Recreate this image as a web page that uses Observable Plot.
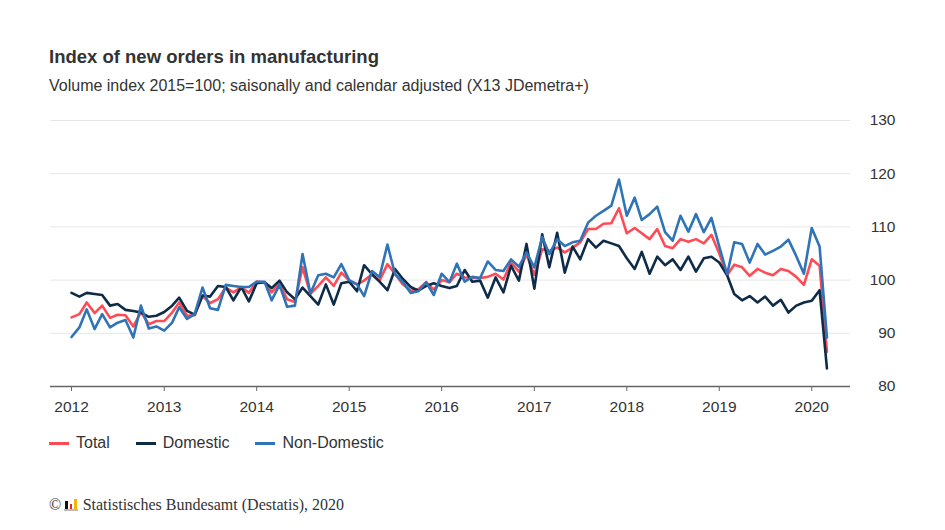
<!DOCTYPE html>
<html>
<head>
<meta charset="utf-8">
<script src="https://cdn.jsdelivr.net/npm/d3@7"></script>
<script src="https://cdn.jsdelivr.net/npm/@observablehq/plot@0.6"></script>
<style>
  html, body { margin: 0; padding: 0; background: #fff; }
  body { font-family: "Liberation Sans", Arial, sans-serif; color: #333; }
  #wrap { position: relative; width: 945px; height: 530px; overflow: hidden; background: #fff; }
  .title { position: absolute; left: 49px; top: 47.5px; font-size: 18.5px; font-weight: bold; line-height: 1; white-space: nowrap; color: #333; }
  .subtitle { position: absolute; left: 49px; top: 78px; font-size: 16px; line-height: 1; white-space: nowrap; color: #333; }
  #chart { position: absolute; left: 0; top: 100px; }
  #legend { position: absolute; left: 49px; top: 435px; display: flex; gap: 26px; font-size: 16px; line-height: 1; color: #333; }
  .item { display: flex; align-items: center; white-space: nowrap; }
  .sw { width: 20px; height: 3px; margin-right: 7px; margin-top: 1px; }
  #footer { position: absolute; left: 49px; top: 497px; font-family: "Liberation Serif", "Times New Roman", serif; font-size: 16px; line-height: 1; color: #333; display: flex; align-items: flex-end; white-space: nowrap; }
  .logo { display: inline-flex; align-items: flex-end; gap: 2px; height: 12px; margin: 0 5px 2px 3px; border-bottom: 2px solid #bbb; padding: 0 1px; }
  .logo span { display: block; width: 2.5px; }
</style>
</head>
<body>
<div id="wrap">
  <div class="title">Index of new orders in manufacturing</div>
  <div class="subtitle">Volume index 2015=100; saisonally and calendar adjusted (X13 JDemetra+)</div>
  <div id="chart"></div>
  <div id="legend"></div>
  <div id="footer"><span>©</span><span class="logo"><span style="height:8px;background:#111"></span><span style="height:5px;background:#e3242b"></span><span style="height:10px;background:#f2b800"></span></span><span>Statistisches Bundesamt (Destatis), 2020</span></div>
</div>
<script>
// Monthly values, January 2012 to March 2020
const firstYear = 2012;
const seriesNames = ["Total", "Domestic", "Non-Domestic"];
const seriesColors = ["#ff4b55", "#0e2b48", "#2f74b6"];
const yTicks = [80, 90, 100, 110, 120, 130];
const xTickYears = [2012, 2013, 2014, 2015, 2016, 2017, 2018, 2019, 2020];

const total = [
  93.0, 93.6, 95.8, 93.8, 95.2, 92.9, 93.5, 93.4, 91.3, 94.0, 91.7, 92.3,
  92.3, 93.9, 95.8, 93.3, 93.4, 97.0, 95.7, 96.4, 98.6, 97.7, 98.7, 97.6,
  99.7, 99.6, 97.7, 99.4, 96.4, 95.9, 102.4, 97.4, 98.9, 100.5, 98.9, 101.4,
  99.9, 99.2, 99.9, 101.1, 99.9, 103.0, 101.2, 99.2, 98.0, 98.3, 99.6, 98.2,
  100.0, 99.6, 101.2, 100.5, 100.4, 100.4, 100.6, 101.2, 100.1, 103.3, 101.6, 104.8,
  101.0, 105.8, 105.5, 106.1, 105.2, 106.1, 107.1, 109.6, 109.6, 110.6, 110.7, 113.5,
  108.8, 109.8, 108.8, 107.7, 109.6, 106.4, 106.0, 107.7, 107.2, 107.7, 106.9, 108.5,
  105.0, 100.9, 102.9, 102.4, 100.8, 102.1, 101.4, 100.9, 102.1, 101.7, 100.6, 99.1,
  103.9, 102.7, 86.5
];
const domestic = [
  97.6, 96.9, 97.6, 97.4, 97.2, 95.2, 95.5, 94.4, 94.2, 93.9, 93.1, 93.3,
  94.0, 95.2, 96.7, 94.2, 93.5, 97.1, 96.9, 98.9, 98.7, 96.2, 98.7, 96.0,
  99.4, 99.6, 98.5, 99.9, 97.7, 96.4, 98.6, 97.0, 95.4, 99.2, 95.4, 99.4,
  99.7, 97.9, 102.8, 101.1, 99.7, 98.1, 102.1, 100.2, 98.7, 98.0, 98.9, 99.4,
  98.9, 98.5, 98.9, 101.9, 99.7, 99.9, 96.7, 100.5, 97.7, 102.7, 99.9, 106.8,
  98.4, 108.6, 102.4, 108.9, 101.4, 106.3, 103.9, 107.7, 106.1, 107.4, 106.9, 106.4,
  104.1, 102.1, 105.3, 101.2, 104.4, 102.8, 103.9, 101.9, 104.4, 101.6, 104.1, 104.4,
  103.3, 100.9, 97.4, 96.2, 97.0, 95.8, 96.9, 95.2, 96.3, 93.9, 95.2, 95.8,
  96.1, 98.1, 83.4
];
const nonDomestic = [
  89.3, 91.1, 94.5, 90.8, 93.6, 91.1, 92.0, 92.5, 89.2, 95.2, 90.9, 91.3,
  90.5, 92.0, 94.9, 92.7, 93.6, 98.6, 94.7, 94.4, 99.1, 98.9, 98.7, 98.7,
  99.7, 99.7, 96.2, 99.1, 95.0, 95.2, 104.9, 97.5, 100.9, 101.2, 100.5, 103.0,
  100.0, 99.2, 97.0, 101.7, 100.6, 106.7, 101.1, 99.6, 97.6, 97.9, 99.6, 97.2,
  101.2, 99.6, 103.1, 99.7, 100.6, 100.4, 103.5, 101.9, 101.7, 103.9, 102.5, 105.2,
  102.4, 108.1, 104.9, 107.7, 106.4, 107.1, 107.4, 110.8, 112.1, 113.0, 114.0, 118.9,
  112.1, 115.5, 111.3, 112.4, 113.8, 109.0, 107.4, 112.1, 109.1, 112.4, 109.0, 111.7,
  106.3, 101.1, 107.1, 106.8, 103.3, 106.8, 104.8, 105.5, 106.3, 107.6, 104.5, 101.2,
  109.8, 106.3, 89.2
];

const seriesValues = [total, domestic, nonDomestic];
const rows = [];
seriesValues.forEach((vals, k) => {
  vals.forEach((v, i) => {
    rows.push({ date: new Date(Date.UTC(firstYear, i, 1)), value: v, series: seriesNames[k] });
  });
});

const chart = Plot.plot({
  width: 945,
  height: 320,
  marginLeft: 50,
  marginRight: 95,
  marginTop: 20,
  marginBottom: 34,
  style: { fontFamily: '"Liberation Sans", Arial, sans-serif', fontSize: "15px", color: "#333", background: "#fff" },
  x: { type: "utc", domain: [new Date(Date.UTC(2011, 9, 10)), new Date(Date.UTC(2020, 5, 2))] },
  y: { domain: [80, 130], axis: null },
  color: { domain: seriesNames, range: seriesColors },
  marks: [
    Plot.ruleY(yTicks.filter(d => d > 80), { stroke: "#e6e6e6", strokeWidth: 1 }),
    Plot.lineY(rows, { x: "date", y: "value", z: "series", stroke: "series", strokeWidth: 2.6 }),
    Plot.ruleY([80], { stroke: "#666", strokeWidth: 1.5 }),
    Plot.axisX({
      ticks: xTickYears.map(y => new Date(Date.UTC(y, 0, 1))),
      tickFormat: d3.utcFormat("%Y"),
      tickSize: 5, tickPadding: 9, fontSize: 15.5, stroke: "#666", label: null
    }),
    Plot.text(yTicks, {
      y: d => d, text: d => String(d), frameAnchor: "right", dx: 45,
      textAnchor: "end", fontSize: 15.5, fill: "#333"
    })
  ]
});
document.getElementById("chart").appendChild(chart);

const legend = document.getElementById("legend");
seriesNames.forEach((name, k) => {
  const item = document.createElement("div");
  item.className = "item";
  const sw = document.createElement("span");
  sw.className = "sw";
  sw.style.background = seriesColors[k];
  const label = document.createElement("span");
  label.textContent = name;
  item.appendChild(sw);
  item.appendChild(label);
  legend.appendChild(item);
});
</script>
</body>
</html>
